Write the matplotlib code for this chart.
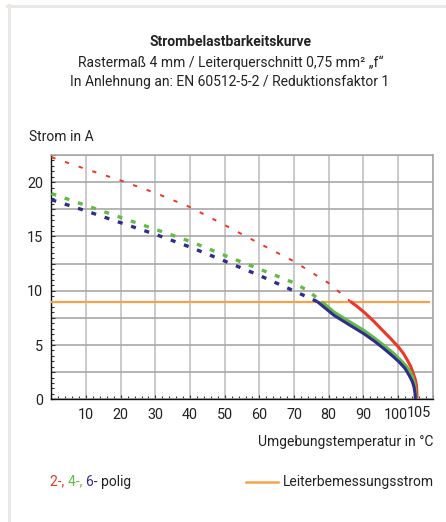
import numpy as np
import matplotlib
matplotlib.use("Agg")
import matplotlib.pyplot as plt
from matplotlib.lines import Line2D
from matplotlib.ticker import MultipleLocator, FuncFormatter
import matplotlib.transforms as mtransforms

plt.rcParams['font.family'] = ['Roboto', 'DejaVu Sans']

# ---------------- data ----------------
# 2-polig (red)
red_dot_x = [0, 10, 20, 30, 40, 50, 60, 70, 80, 86.3]
red_dot_y = [22.3, 21.2, 20.15, 19.0, 17.7, 16.05, 14.35, 12.7, 10.7, 9.0]
red_x = [86.3, 88.0, 90.1, 92.8, 95.5, 98.0, 100.1, 101.6, 102.7, 103.7, 104.4, 105.0, 105.3, 105.45, 105.45]
red_y = [9.0, 8.6, 8.05, 7.25, 6.36, 5.55, 4.82, 4.2, 3.6, 3.0, 2.37, 1.8, 1.3, 0.6, 0.0]

# 4-polig (green)
green_dot_x = [0, 10, 20, 30, 40, 50, 60, 70, 74, 78]
green_dot_y = [18.95, 17.85, 16.75, 15.65, 14.55, 13.25, 12.0, 10.72, 10.0, 9.0]
green_x = [78, 81.5, 86.0, 90.1, 93.2, 95.9, 98.5, 100.8, 102.4, 103.6, 104.4, 104.85, 105.1, 105.15]
green_y = [9.0, 8.05, 7.15, 6.36, 5.65, 4.97, 4.3, 3.6, 3.05, 2.5, 1.9, 1.3, 0.6, 0.0]

# 6-polig (blue)
blue_dot_x = [0, 10, 20, 30, 40, 50, 60, 70, 76.7]
blue_dot_y = [18.38, 17.35, 16.26, 15.19, 14.02, 12.73, 11.41, 9.98, 9.0]
blue_x = [76.7, 81.5, 86.0, 90.1, 93.2, 95.9, 98.2, 100.3, 102.0, 103.2, 104.1, 104.6, 104.9, 105.0]
blue_y = [9.0, 7.74, 6.85, 6.05, 5.35, 4.67, 4.05, 3.44, 2.85, 2.21, 1.65, 1.14, 0.55, 0.0]

# Leiterbemessungsstrom (orange)
rated_x = [0, 109]
rated_y = [9, 9]

x_ticks = [10, 20, 30, 40, 50, 60, 70, 80, 90, 100]
y_ticks = [0, 5, 10, 15, 20]

RED = '#ee3526'
GREEN = '#62bb47'
BLUE = '#2e2c8c'
ORANGE = '#f7a14b'
TXT = '#222222'
FS = 10

W, H = 446, 522
fig = plt.figure(figsize=(W / 100, H / 100), dpi=100)
fig.patch.set_facecolor('white')

def fx(px):
    return px / W

def fy(py):
    return 1 - py / H

# light frame top / left
fig.add_artist(Line2D([fx(7), 1], [fy(5.5), fy(5.5)], color='#ebe7e4', lw=2.2))
fig.add_artist(Line2D([fx(8.5), fx(8.5)], [fy(5), 0], color='#ebe7e4', lw=2.2))

ax = fig.add_axes([fx(51.4), fy(399.3), fx(432.7) - fx(51.4), fy(155) - fy(399.3)])

ax.plot(rated_x, rated_y, color=ORANGE, lw=1.6, zorder=3)

ax.plot(red_dot_x, red_dot_y, color=RED, lw=1.4, ls=(0, (2.2, 5.2)), zorder=4)
ax.plot(green_dot_x, green_dot_y, color=GREEN, lw=2.4, ls=(0, (1.5, 2.7)), zorder=4)
ax.plot(blue_dot_x, blue_dot_y, color=BLUE, lw=2.4, ls=(0, (1.5, 2.7)), zorder=4)

ax.plot(red_x, red_y, color=RED, lw=2.2, zorder=4, solid_capstyle='butt')
ax.plot(green_x, green_y, color=GREEN, lw=2.2, zorder=4, solid_capstyle='butt')
ax.plot(blue_x, blue_y, color=BLUE, lw=2.2, zorder=5, solid_capstyle='butt')

ax.set_xlim(0, 110)
ax.set_ylim(0, 22.5)

# grid at every 10 / 2.5
ax.xaxis.set_major_locator(MultipleLocator(10))
ax.yaxis.set_major_locator(MultipleLocator(2.5))
ax.xaxis.set_minor_locator(MultipleLocator(2))
ax.yaxis.set_minor_locator(MultipleLocator(0.5))
ax.xaxis.set_major_formatter(FuncFormatter(lambda v, p: f'{v:.0f}' if round(v) in x_ticks else ''))
ax.yaxis.set_major_formatter(FuncFormatter(lambda v, p: f'{v:.0f}' if v in y_ticks else ''))
ax.grid(axis='x', color='#c6c6c6', lw=1.3)
ax.grid(axis='y', color='#a8a8a8', lw=1.2)

ax.tick_params(which='both', direction='in', colors='#333333', labelcolor=TXT, labelsize=FS + 0.4)
ax.tick_params(which='major', length=3, width=0.8)
ax.tick_params(which='minor', length=2.5, width=0.8)
ax.tick_params(axis='x', pad=6)
ax.tick_params(axis='y', pad=6)

for s in ['left', 'bottom']:
    ax.spines[s].set_color('#111111')
    ax.spines[s].set_linewidth(1.0)
for s in ['top', 'right']:
    ax.spines[s].set_color('#a8a8a8')
    ax.spines[s].set_linewidth(1.2)

# shift "100" a bit left, add "105" label a bit right of its position
fig.canvas.draw()
for lbl in ax.get_xticklabels():
    if lbl.get_text() == '100':
        lbl.set_transform(lbl.get_transform() + mtransforms.ScaledTranslation(-2 / 100, 0, fig.dpi_scale_trans))
off = mtransforms.ScaledTranslation(3.5 / 100, 0, fig.dpi_scale_trans)
ax.text(105, fy(412.7), '105', transform=mtransforms.blended_transform_factory(ax.transData, fig.transFigure) + off,
        ha='center', va='center', fontsize=FS + 0.4, color=TXT)

# titles
fig.text(fx(230), fy(42), 'Strombelastbarkeitskurve', ha='center', va='center',
         fontsize=10, fontweight='bold', color=TXT)
fig.text(fx(230.5), fy(63), 'Rastermaß 4 mm / Leiterquerschnitt 0,75 mm² „f“', ha='center', va='center',
         fontsize=FS, color=TXT)
fig.text(fx(230), fy(82), 'In Anlehnung an: EN 60512-5-2 / Reduktionsfaktor 1', ha='center', va='center',
         fontsize=FS, color=TXT)

fig.text(fx(29), fy(137), 'Strom in A', ha='left', va='center', fontsize=FS, color=TXT)
fig.text(fx(433), fy(441.7), 'Umgebungstemperatur in °C', ha='right', va='center', fontsize=FS, color=TXT)

# legend
r = fig.canvas.get_renderer()
xpos = fx(50)
for part, col in [('2-, ', RED), ('4-, ', GREEN), ('6- ', BLUE), ('polig', TXT)]:
    t = fig.text(xpos, fy(481.7), part, ha='left', va='center', fontsize=FS, color=col)
    bb = t.get_window_extent(renderer=r)
    xpos += bb.width / W

fig.add_artist(Line2D([fx(246), fx(278)], [fy(482), fy(482)], color=ORANGE, lw=1.8))
fig.text(fx(283), fy(481.7), 'Leiterbemessungsstrom', ha='left', va='center', fontsize=FS, color=TXT)

fig.savefig('out.png', dpi=100)
